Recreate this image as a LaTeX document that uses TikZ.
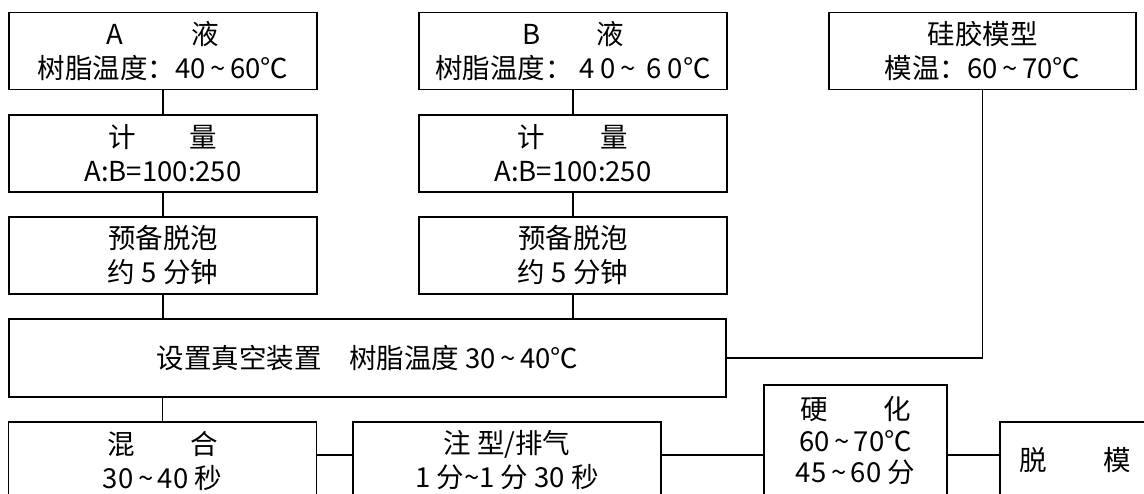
\documentclass[tikz,border=0pt]{standalone}
\usepackage{fontspec}
\setmainfont{Noto Sans CJK SC}
\newfontfamily\cjk{Noto Sans CJK SC}
\newcommand{\tl}{\,\textasciitilde\,}
\begin{document}
\begin{tikzpicture}[x=1pt,y=-1pt,
  box/.style={draw=black, line width=1.1pt, rectangle, inner sep=0pt, align=center,
    font=\cjk\fontsize{27.5pt}{34pt}\selectfont},
  wide/.style={minimum width=308pt, minimum height=77pt},
  conn/.style={draw=black, line width=1.1pt}]
\useasboundingbox (0,0) rectangle (1144,493);
\clip (0,0) rectangle (1144,493);
% column A
\node[box, wide] (A1) at (163,51) {A\hspace{68pt}液\\树脂温度：40\tl60℃};
\node[box, wide] (A2) at (163,153.5) {计\hspace{54pt}量\\A:B=100:250};
\node[box, wide] (A3) at (163,255.5) {预备脱泡\\约 5 分钟};
% column B
\node[box, wide] (B1) at (573,51) {B\hspace{56pt}液\\树脂温度： 4 0\tl\ 6 0℃};
\node[box, wide] (B2) at (573,153.5) {计\hspace{56pt}量\\A:B=100:250};
\node[box, wide] (B3) at (573,255.5) {预备脱泡\\约 5 分钟};
% silicone mould
\node[box, minimum width=307pt, minimum height=77pt] (S) at (982.5,51) {硅胶模型\\模温：60\tl70℃};
% setup
\node[box, minimum width=717pt, minimum height=78pt] (Setup) at (367.5,358) {设置真空装置　树脂温度 30\tl40℃};
% bottom row
\node[box, wide] (Mix) at (162.5,460.5) {混\hspace{56pt}合\\30\tl40 秒};
\node[box, minimum width=308pt, minimum height=77pt] (Inject) at (507,460.5) {注 型/排气\\{}1\ 分\textasciitilde1\ 分 30 秒};
\node[box, minimum width=183pt, minimum height=112pt, font=\cjk\fontsize{27.5pt}{31.5pt}\selectfont] (Cure) at (855.5,441) {硬\hspace{56pt}化\\60\tl70℃\\45\tl60 分};
\node[box, minimum width=150pt, minimum height=77pt] (Demold) at (1075,460.5) {脱\hspace{57pt}模};
% connectors
\draw[conn] (A1) -- (A2);
\draw[conn] (A2) -- (A3);
\draw[conn] (A3.south) -- (A3.south |- Setup.north);
\draw[conn] (B1) -- (B2);
\draw[conn] (B2) -- (B3);
\draw[conn] (B3.south) -- (B3.south |- Setup.north);
\draw[conn] (S.south) |- (Setup.east);
\draw[conn] (Mix.north) -- (Mix.north |- Setup.south);
\coordinate (hy) at (0,455);
\draw[conn] (Mix.east |- hy) -- (Inject.west |- hy);
\draw[conn] (Inject.east |- hy) -- (Cure.west |- hy);
\draw[conn] (Cure.east |- hy) -- (Demold.west |- hy);
\end{tikzpicture}
\end{document}
